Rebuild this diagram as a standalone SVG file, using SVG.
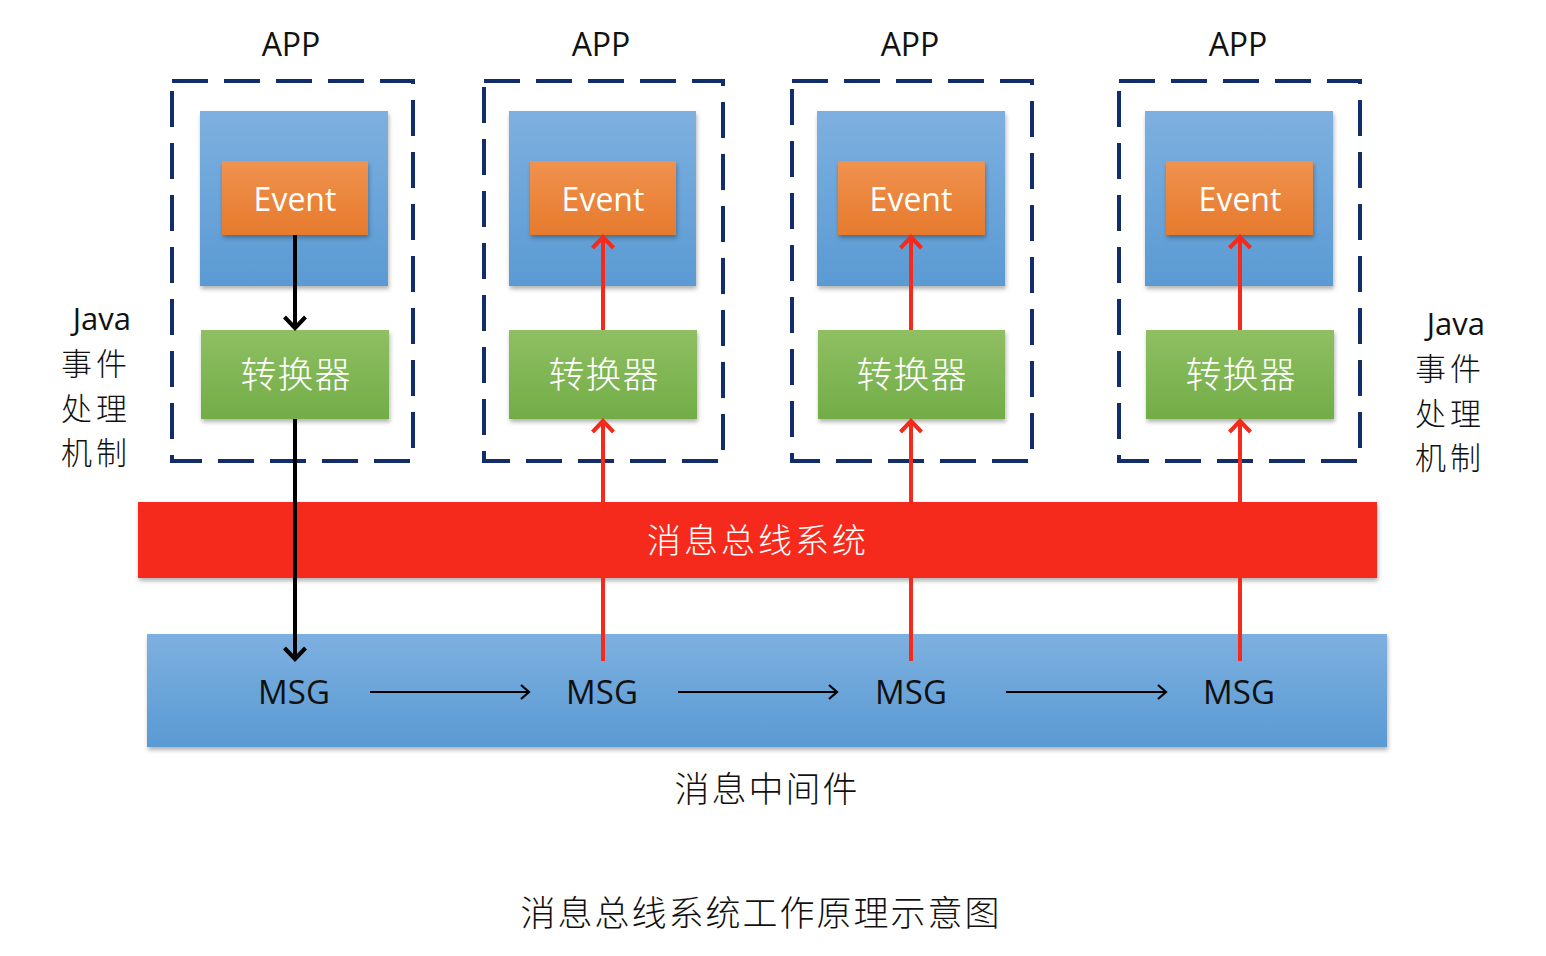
<svg xmlns="http://www.w3.org/2000/svg" width="1546" height="956" viewBox="0 0 1546 956">
<defs>
<linearGradient id="gBlue" x1="0" y1="0" x2="0" y2="1"><stop offset="0" stop-color="#7db0e0"/><stop offset="1" stop-color="#5a9ad3"/></linearGradient>
<linearGradient id="gOrange" x1="0" y1="0" x2="0" y2="1"><stop offset="0" stop-color="#f0924f"/><stop offset="1" stop-color="#e67a2c"/></linearGradient>
<linearGradient id="gGreen" x1="0" y1="0" x2="0" y2="1"><stop offset="0" stop-color="#8fbf62"/><stop offset="1" stop-color="#72ad47"/></linearGradient>
<filter id="sh" x="-10%" y="-10%" width="120%" height="130%"><feDropShadow dx="1" dy="3" stdDeviation="2" flood-color="#000" flood-opacity="0.3"/></filter>
<marker id="hk" viewBox="0 0 24 24" refX="18" refY="12" markerWidth="24" markerHeight="24" markerUnits="userSpaceOnUse" orient="auto"><path d="M7,1.5 L18,12 L7,22.5" fill="none" stroke="#000" stroke-width="4"/></marker>
<marker id="hr" viewBox="0 0 24 24" refX="18" refY="12" markerWidth="24" markerHeight="24" markerUnits="userSpaceOnUse" orient="auto"><path d="M7,1.5 L18,12 L7,22.5" fill="none" stroke="#f52a1a" stroke-width="4"/></marker>
<marker id="ht" viewBox="0 0 20 20" refX="18" refY="10" markerWidth="20" markerHeight="20" markerUnits="userSpaceOnUse" orient="auto"><path d="M10,3 L18,10 L10,17" fill="none" stroke="#000" stroke-width="2.2"/></marker>
</defs>
<style>
.dash{fill:none;stroke:#132d6b;stroke-width:4;stroke-dasharray:36 16}
.blue{fill:url(#gBlue);filter:url(#sh)}
.ev{fill:url(#gOrange);filter:url(#sh)}
.cv{fill:url(#gGreen);filter:url(#sh)}
.lat{font-family:"Open Sans","Noto Sans","Liberation Sans",sans-serif}
.cjk{font-family:"Noto Sans CJK SC","Noto Sans",sans-serif;font-weight:300}
.wt{fill:#fff}
.bk{fill:#111}
.ak{stroke:#000;stroke-width:4;fill:none}
.ar{stroke:#f52a1a;stroke-width:4;fill:none}
</style>
<rect width="1546" height="956" fill="#fff"/>

<g id="bus">
<rect x="138" y="502" width="1239" height="76" fill="#f52a1a" filter="url(#sh)"/>
<text x="758" y="553" text-anchor="middle" class="cjk wt" font-size="34" letter-spacing="3">消息总线系统</text>
</g>
<g id="middleware">
<rect x="147" y="634" width="1240" height="113" class="blue"/>
<text x="294" y="704" text-anchor="middle" class="lat bk" font-size="33">MSG</text>
<text x="602" y="704" text-anchor="middle" class="lat bk" font-size="33">MSG</text>
<text x="911" y="704" text-anchor="middle" class="lat bk" font-size="33">MSG</text>
<text x="1239" y="704" text-anchor="middle" class="lat bk" font-size="33">MSG</text>
<text x="767" y="802" text-anchor="middle" class="cjk bk" font-size="35" letter-spacing="2">消息中间件</text>
</g>

<g id="app1">
<text x="291" y="56" text-anchor="middle" class="lat bk" font-size="32">APP</text>
<rect x="172" y="81" width="241" height="380" class="dash"/>
<rect x="200" y="111" width="188" height="175" class="blue"/>
<rect x="222" y="161" width="146" height="74" class="ev"/>
<text x="295" y="211" text-anchor="middle" class="lat wt" font-size="32">Event</text>
<rect x="201" y="330" width="188" height="89" class="cv"/>
<text x="296" y="388" text-anchor="middle" class="cjk wt" font-size="36" letter-spacing="1">转换器</text>
</g>
<g id="app2">
<text x="601" y="56" text-anchor="middle" class="lat bk" font-size="32">APP</text>
<rect x="484" y="81" width="239" height="380" class="dash"/>
<rect x="509" y="111" width="187" height="175" class="blue"/>
<rect x="530" y="161" width="146" height="74" class="ev"/>
<text x="603" y="211" text-anchor="middle" class="lat wt" font-size="32">Event</text>
<rect x="509" y="330" width="188" height="89" class="cv"/>
<text x="604" y="388" text-anchor="middle" class="cjk wt" font-size="36" letter-spacing="1">转换器</text>
</g>
<g id="app3">
<text x="910" y="56" text-anchor="middle" class="lat bk" font-size="32">APP</text>
<rect x="792" y="81" width="240" height="380" class="dash"/>
<rect x="817" y="111" width="188" height="175" class="blue"/>
<rect x="838" y="161" width="147" height="74" class="ev"/>
<text x="911" y="211" text-anchor="middle" class="lat wt" font-size="32">Event</text>
<rect x="818" y="330" width="187" height="89" class="cv"/>
<text x="912" y="388" text-anchor="middle" class="cjk wt" font-size="36" letter-spacing="1">转换器</text>
</g>
<g id="app4">
<text x="1238" y="56" text-anchor="middle" class="lat bk" font-size="32">APP</text>
<rect x="1119" y="81" width="241" height="380" class="dash"/>
<rect x="1145" y="111" width="188" height="175" class="blue"/>
<rect x="1166" y="161" width="147" height="74" class="ev"/>
<text x="1240" y="211" text-anchor="middle" class="lat wt" font-size="32">Event</text>
<rect x="1146" y="330" width="188" height="89" class="cv"/>
<text x="1241" y="388" text-anchor="middle" class="cjk wt" font-size="36" letter-spacing="1">转换器</text>
</g>

<g id="label-left">
<text x="131" y="330" text-anchor="end" class="lat bk" font-size="31">Java</text>
<text x="96" y="375" text-anchor="middle" class="cjk bk" font-size="31" letter-spacing="4">事件</text>
<text x="96" y="420" text-anchor="middle" class="cjk bk" font-size="31" letter-spacing="4">处理</text>
<text x="96" y="464" text-anchor="middle" class="cjk bk" font-size="31" letter-spacing="4">机制</text>
</g>
<g id="label-right">
<text x="1485" y="335" text-anchor="end" class="lat bk" font-size="31">Java</text>
<text x="1450" y="380" text-anchor="middle" class="cjk bk" font-size="31" letter-spacing="4">事件</text>
<text x="1450" y="425" text-anchor="middle" class="cjk bk" font-size="31" letter-spacing="4">处理</text>
<text x="1450" y="469" text-anchor="middle" class="cjk bk" font-size="31" letter-spacing="4">机制</text>
</g>

<g id="connectors">
<line x1="295" y1="235" x2="295" y2="328" class="ak" marker-end="url(#hk)"/>
<line x1="295" y1="419" x2="295" y2="659" class="ak" marker-end="url(#hk)"/>
<line x1="603" y1="661" x2="603" y2="421" class="ar" marker-end="url(#hr)"/>
<line x1="603" y1="330" x2="603" y2="237" class="ar" marker-end="url(#hr)"/>
<line x1="911" y1="661" x2="911" y2="421" class="ar" marker-end="url(#hr)"/>
<line x1="911" y1="330" x2="911" y2="237" class="ar" marker-end="url(#hr)"/>
<line x1="1240" y1="661" x2="1240" y2="421" class="ar" marker-end="url(#hr)"/>
<line x1="1240" y1="330" x2="1240" y2="237" class="ar" marker-end="url(#hr)"/>
<line x1="370" y1="692" x2="529" y2="692" stroke="#000" stroke-width="2.2" marker-end="url(#ht)"/>
<line x1="678" y1="692" x2="837" y2="692" stroke="#000" stroke-width="2.2" marker-end="url(#ht)"/>
<line x1="1006" y1="692" x2="1166" y2="692" stroke="#000" stroke-width="2.2" marker-end="url(#ht)"/>
</g>

<text x="761" y="926" text-anchor="middle" class="cjk bk" font-size="35" letter-spacing="2">消息总线系统工作原理示意图</text>
</svg>
